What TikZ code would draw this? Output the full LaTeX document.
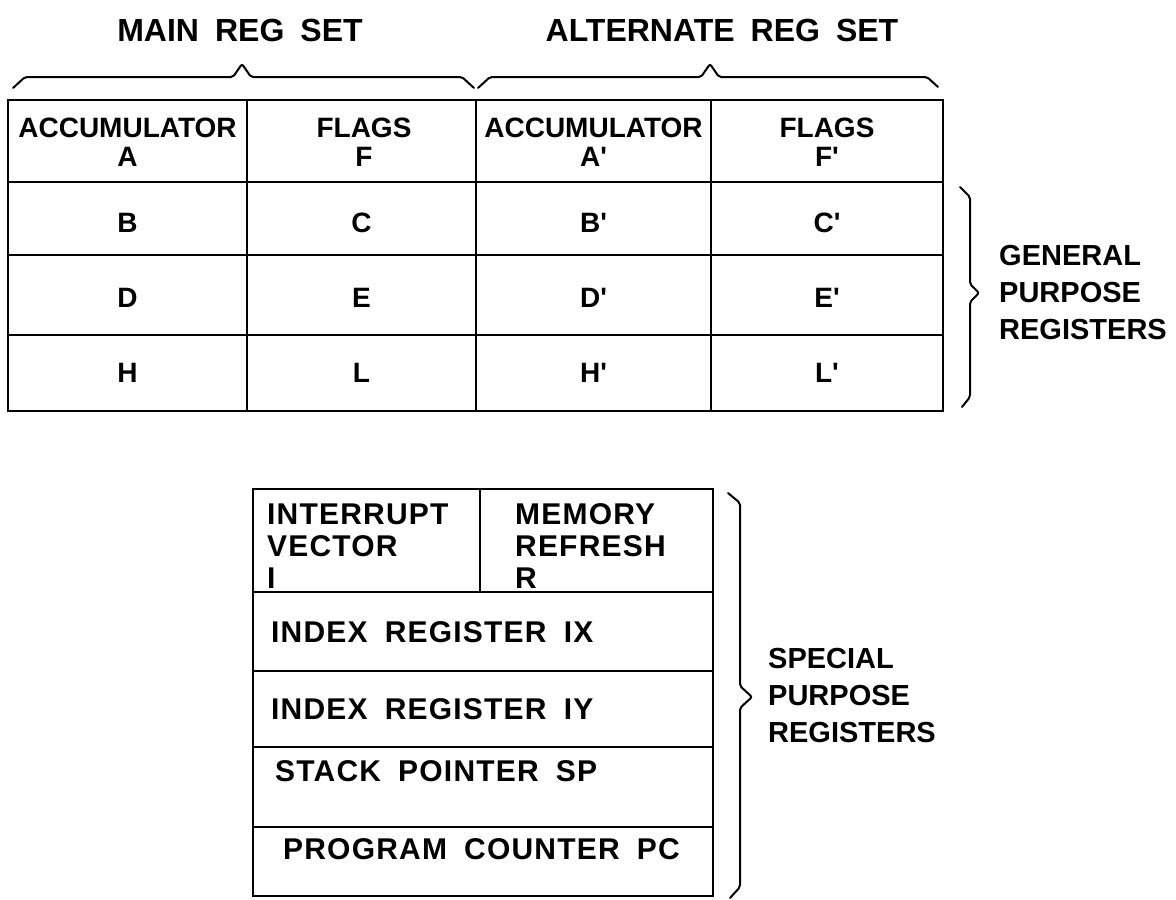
\documentclass[tikz,border=0pt]{standalone}
\usepackage{fontspec}
\setmainfont{Liberation Sans}[WordSpace=1.8]
\newfontfamily\spfont{Liberation Sans}[WordSpace=1.8,LetterSpace=4]
\newcommand\prm{\textquotesingle}
\tikzset{
  tbl/.style={line width=2.6pt, line cap=rect, line join=miter},
  brc/.style={line width=2pt, rounded corners=2pt, line cap=round, line join=round},
  head/.style={inner sep=0pt, font=\bfseries\fontsize{32}{36}\selectfont},
  cellt/.style={inner sep=0pt, align=center, font=\bfseries\fontsize{28}{29}\selectfont},
  spt/.style={inner sep=0pt, align=left, anchor=west, font=\spfont\bfseries\fontsize{30}{32}\selectfont},
  side/.style={inner sep=0pt, align=left, anchor=west, font=\bfseries\fontsize{29}{37}\selectfont},
}
\begin{document}
\begin{tikzpicture}[x=1pt,y=-1pt]
\useasboundingbox (0,0) rectangle (1176,900);
% headings
\node[head] (mainh) at (240,30) {MAIN REG SET};
\node[head] (alth) at (722,30) {ALTERNATE REG SET};
% top braces
\draw[brc] (13,88) -- (25,77) -- (233,77) -- (242,64) -- (251,77) -- (462,77) -- (474,88);
\draw[brc] (478,88) -- (490,77) -- (701,77) -- (710,64) -- (719,77) -- (927,77) -- (938,87);
% main table
\draw[tbl] (8,100) rectangle (943,411);
\foreach \y in {182,255,335} \draw[tbl] (8,\y) -- (943,\y);
\foreach \x in {247,476,711} \draw[tbl] (\x,100) -- (\x,411);
% cell texts
\node[cellt] (acc)  at (127.5,142.5) {ACCUMULATOR\\A};
\node[cellt] (flg)  at (364,142.5)   {FLAGS\\F};
\node[cellt] (acc2) at (593.5,142.5) {ACCUMULATOR\\A\prm};
\node[cellt] (flg2) at (827,142.5)   {FLAGS\\F\prm};
\node[cellt] (rb)  at (127.5,223) {B};
\node[cellt] (rc)  at (361.5,223) {C};
\node[cellt] (rb2) at (593.5,223) {B\prm};
\node[cellt] (rc2) at (827,223)   {C\prm};
\node[cellt] (rd)  at (127.5,298) {D};
\node[cellt] (re)  at (361.5,298) {E};
\node[cellt] (rd2) at (593.5,298) {D\prm};
\node[cellt] (re2) at (827,298)   {E\prm};
\node[cellt] (rh)  at (127.5,373) {H};
\node[cellt] (rl)  at (361.5,373) {L};
\node[cellt] (rh2) at (593.5,373) {H\prm};
\node[cellt] (rl2) at (827,373)   {L\prm};
% general purpose brace and label
\draw[brc] (960,187) -- (970,197) -- (970,284) -- (979,293) -- (970,302) -- (970,397) -- (962,407);
\node[side] (gpr) at (999,293) {GENERAL\\PURPOSE\\REGISTERS};
% special purpose table
\draw[tbl] (253,489) rectangle (713,896);
\foreach \y in {592,671,747,827} \draw[tbl] (253,\y) -- (713,\y);
\draw[tbl] (480,489) -- (480,592);
\node[spt] (iv) at (267,546) {INTERRUPT\\VECTOR\\I};
\node[spt] (mr) at (515,546) {MEMORY\\REFRESH\\R};
\node[spt] (ix) at (271,632) {INDEX REGISTER IX};
\node[spt] (iy) at (271,709) {INDEX REGISTER IY};
\node[spt] (sp) at (275,771) {STACK POINTER SP};
\node[spt] (pc) at (283,849) {PROGRAM COUNTER PC};
% special purpose brace and label
\draw[brc] (728,493) -- (740,503) -- (740,686) -- (752,697) -- (740,708) -- (740,887) -- (730,898);
\node[side] (spr) at (768,696) {SPECIAL\\PURPOSE\\REGISTERS};
\end{tikzpicture}
\end{document}
